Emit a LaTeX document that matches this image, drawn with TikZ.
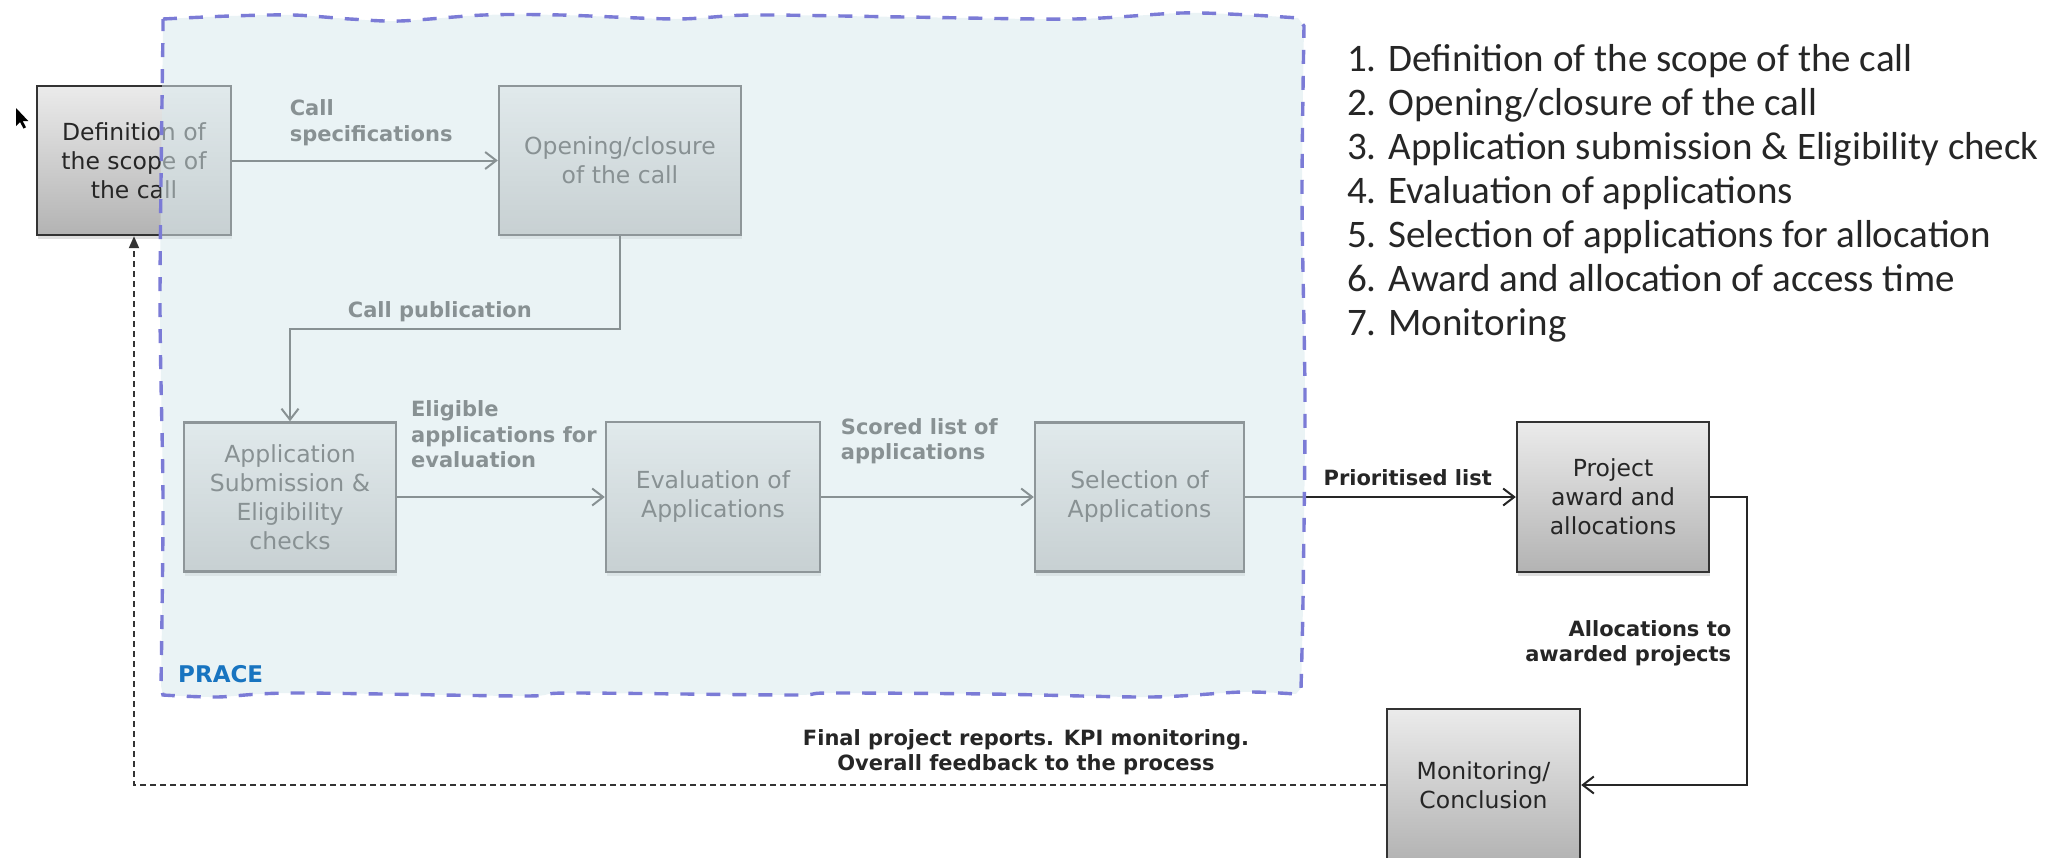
\documentclass[tikz,border=0pt]{standalone}
\usepackage{fontspec}
\setmainfont{DejaVu Sans}
\newfontfamily\listfont{Carlito}
\usetikzlibrary{arrows.meta, shadows}

\definecolor{boxtop}{HTML}{EBEBEB}
\definecolor{boxbot}{HTML}{B3B3B3}
\definecolor{pracefill}{HTML}{D9E9ED}
\definecolor{praceline}{HTML}{7B7BD6}
\definecolor{pracetext}{HTML}{1874C0}

\tikzset{
  stage/.style={draw=black!80, line width=2.4pt, top color=boxtop, bottom color=boxbot,
    text=black!85, align=center, inner sep=0pt, font=\fontsize{23.5}{29}\selectfont,
    drop shadow={shadow xshift=1pt, shadow yshift=-4pt, opacity=0.25}},
  flow/.style={draw=black!85, line width=2pt, -{Straight Barb[length=11pt, width=17pt]}},
  feedback/.style={draw=black!80, line width=1.8pt, dash pattern=on 6pt off 4pt,
    -{Triangle[length=12pt, width=10pt]}},
  lbl/.style={font=\fontsize{21}{25.5}\selectfont\bfseries, text=black!85, inner sep=0pt},
}

\begin{document}
\begin{tikzpicture}[x=1pt, y=-1pt]
    \useasboundingbox (0,0) rectangle (2047,857);
    \clip (0,0) rectangle (2047,857);

    % mouse pointer
    \fill[black] (16,108) -- ++(0,18) -- ++(4,-4) -- ++(3.5,6.5) -- ++(2.5,-1.2) -- ++(-3.3,-6.3) -- ++(5.6,0) -- cycle;

    \node[stage, minimum width=194pt, minimum height=149pt] (def) at (134,160.5) {Definition of\\the scope of\\the call};
    \node[stage, minimum width=242pt, minimum height=149pt] (open) at (620,160.5) {Opening/closure\\of the call};
    \node[stage, minimum width=212pt, minimum height=149pt] (app) at (290,497) {Application\\Submission \&\\Eligibility\\checks};
    \node[stage, minimum width=214pt, minimum height=150pt] (eval) at (713,497) {Evaluation of\\Applications};
    \node[stage, minimum width=209pt, minimum height=149pt] (sel) at (1139.5,497) {Selection of\\Applications};
    \node[stage, minimum width=192pt, minimum height=150pt] (proj) at (1613,497) {Project\\award and\\allocations};
    \node[stage, minimum width=193pt, minimum height=152pt] (mon) at (1483.5,785) {Monitoring/\\Conclusion};

    \draw[flow] (def) -- node[lbl, pos=0.213, anchor=south west, align=left, yshift=14pt] (lspec) {Call\\specifications} (open);
    \draw[flow] (open.south) -- (open.south |- 0,329) -| node[lbl, pos=0.273, anchor=south, yshift=6pt] (lpub) {Call publication} (app.north);
    \draw[flow] (app) -- node[lbl, pos=0.062, anchor=south west, align=left, yshift=28pt] (lelig) {Eligible\\applications for\\evaluation} (eval);
    \draw[flow] (eval) -- node[lbl, pos=0.088, anchor=south west, align=left, yshift=32pt] (lscore) {Scored list of\\applications} (sel);
    \draw[flow] (sel) -- node[lbl, pos=0.286, anchor=south west, yshift=10pt] (lprio) {Prioritised list} (proj);
    \draw[flow] (proj.east) -- ++(37,0) |- node[lbl, pos=0.254, anchor=east, align=right, xshift=-15pt] (lalloc) {Allocations to\\awarded projects} (mon.east);
    \draw[feedback] (mon.west) -| node[lbl, pos=0.1437, anchor=south, align=center, yshift=9pt] (lfeed) {Final project reports. KPI monitoring.\\Overall feedback to the process} (def.south);

    % PRACE area, laid over the steps it covers
    \draw[praceline, line width=3.4pt, dash pattern=on 14pt off 12pt, fill=pracefill, fill opacity=0.55, draw opacity=1]
        plot[smooth] coordinates {(163,19) (230,16) (293,15) (350,19) (400,21) (484,15) (561,15) (676,19) (752,15) (905,17) (1074,19) (1181,13) (1250,15) (1298,18)}
        -- plot[smooth] coordinates {(1304,26) (1302,200) (1305,400) (1303,600) (1301,688)}
        -- plot[smooth] coordinates {(1296,694) (1242,692) (1150,697) (990,694) (829,693) (790,695) (569,693) (523,696) (293,693) (217,697) (163,695)}
        -- plot[smooth] coordinates {(161,686) (163,500) (160,300) (163,30)}
        -- cycle;
    \node[font=\fontsize{23}{23}\selectfont\bfseries, text=pracetext, anchor=west, inner sep=0pt] (prace) at (178,674) {PRACE};

    \node[font=\listfont\fontsize{39}{44}\selectfont, text=black!85, anchor=north west, align=left, inner sep=0pt] (steps) at (1347,44)
        {1. Definition of the scope of the call\\2. Opening/closure of the call\\3. Application submission \& Eligibility check\\4. Evaluation of applications\\5. Selection of applications for allocation\\6. Award and allocation of access time\\7. Monitoring};
\end{tikzpicture}
\end{document}
